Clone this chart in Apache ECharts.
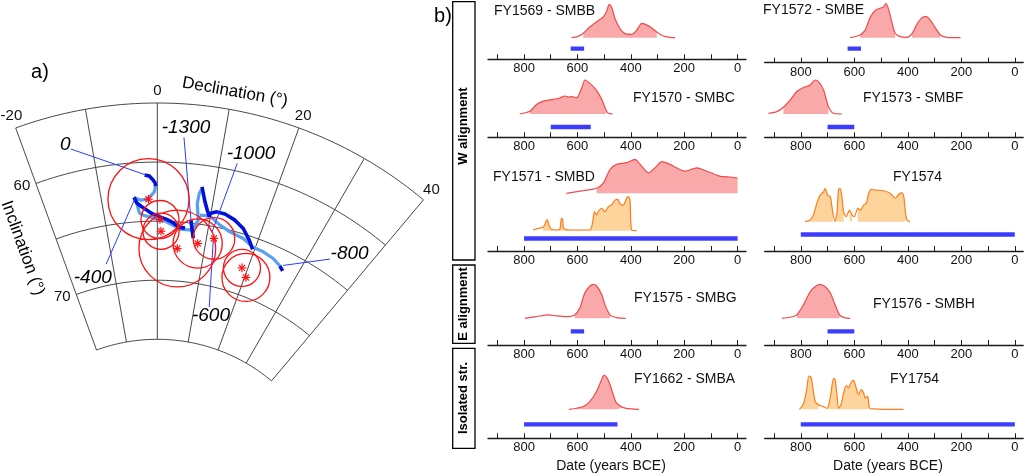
<!DOCTYPE html>
<html><head><meta charset="utf-8">
<script src="https://cdn.jsdelivr.net/npm/echarts@6/dist/echarts.min.js"></script>
<style>html,body{margin:0;padding:0;background:#fff}#c{width:1024px;height:475px}</style>
</head><body><div id="c"></div>
<script>
// ================= Panel a data: points are [declination, inclination] =================
const decTicks = [-20, 0, 20, 40];
const incTicks = [60, 70];
const incGridLines = [55, 60, 65, 70, 75];
const darkCurveSegments = [
  [[-2.11,61.08],[-1.34,61.18],[-0.78,61.47],[-0.39,61.75],[-0.28,62.03]],
  [[-4.17,62.92],[-3.75,63.39],[-2.88,63.75],[-1.98,64.05],[-1.06,64.34],[0.52,64.64],[1.81,64.84],[2.79,65.03],[3.46,65.21],[4.14,65.42],[5.47,65.48]],
  [[6.47,64.75],[6.76,65.31],[7.35,66.25]],
  [[7.71,61.84],[8.09,62.38],[8.60,63.06],[9.25,63.73],[9.82,64.25],[9.84,63.96],[11.01,63.73],[12.59,63.77],[14.66,64.07],[16.59,64.56],[18.37,65.35],[19.61,66.0]],
  [[26.05,66.41],[26.98,66.66]]
];
const lightCurveSegments = [
  [[-0.28,62.03],[-0.53,62.52],[-1.0,62.79],[-1.86,63.12],[-2.94,63.19],[-4.17,62.92]],
  [[-4.17,62.92],[-3.75,63.39],[-3.39,64.25],[-2.65,64.47],[-1.39,64.63],[1.49,64.99],[4.51,65.6],[6.89,65.58],[7.86,64.68],[7.27,63.29],[7.39,62.42],[7.72,62.06]],
  [[8.05,64.24],[9.93,64.19],[12.12,64.77],[14.30,65.14],[17.15,65.37],[19.59,65.82],[21.78,65.87],[24.15,66.06],[26.24,66.43]]
];
// site mean directions: [dec, inc, a95]
const siteMeans = [[-1.59,63.13,3.43],[0.52,64.86,1.61],[0.74,65.85,1.53],[4.26,67.25,3.25],[8.40,66.64,2.08],[11.50,65.98,1.76],[18.77,67.77,1.57],[20.30,68.42,2.03]];
const yearLabels = ['0','-1300','-1000','-400','-600','-800'];
const yearLabelPos = [[-13.89,57.61],[4.22,57.03],[14.45,58.25],[-15.08,69.04],[14.89,72.37],[36.11,62.42]];
const leaderFrom = [[-13.24,58.04],[4.02,57.83],[12.74,59.35],[-11.46,68.21],[13.89,71.73],[33.80,63.77]];
const leaderTo = [[-1.78,61.1],[6.47,64.75],[10.86,65.49],[-4.0,63.01],[11.43,66.14],[26.59,66.23]];

// ================= Panel b data: [year BCE, relative probability] =================
const dateTicks = [0,100,200,300,400,500,600,700,800,900];
const dateLabels = [0,200,400,600,800];
const fy1569 = [[622,0],[600,0.03],[578,0.13],[553,0.32],[528,0.47],[503,0.61],[491,0.76],[481,0.98],[472,0.9],[459,0.56],[441,0.27],[422,0.12],[397,0.1],[378,0.22],[359,0.42],[347,0.40],[328,0.32],[303,0.17],[278,0.05],[253,0.01],[234,0]];
const fy1569Fill = [[580,280]];
const fy1570 = [[816,0],[778,0.08],[753,0.28],[728,0.38],[691,0.43],[666,0.47],[647,0.53],[634,0.5],[622,0.51],[603,0.48],[585,0.74],[572,1.0],[553,0.9],[528,0.69],[509,0.43],[493,0.12],[484,0.02],[468,0]];
const fy1570Fill = [[780,490]];
const fy1572 = [[615,0],[578,0.08],[559,0.23],[541,0.59],[522,0.8],[503,0.87],[491,0.9],[482,1.0],[472,0.84],[459,0.44],[447,0.13],[428,0.03],[403,0.01],[385,0.11],[366,0.39],[347,0.59],[331,0.62],[316,0.52],[297,0.29],[278,0.08],[253,0.01],[203,0]];
const fy1572Fill = [[580,445],[390,265]];
const fy1573 = [[921,0.02],[890,0.07],[865,0.2],[840,0.41],[815,0.66],[790,0.78],[765,0.85],[747,1.0],[734,0.95],[715,0.71],[697,0.22],[678,0.02],[647,0]];
const fy1573Fill = [[870,690]];
const fy1571 = [[641,0],[578,0.08],[528,0.15],[503,0.3],[478,0.7],[453,0.85],[416,0.9],[384,1.0],[365,0.85],[334,0.6],[309,0.75],[284,0.93],[253,0.85],[222,0.72],[197,0.65],[153,0.75],[115,0.65],[65,0.5],[28,0.48],[0,0.45]];
const fy1571Fill = [[530,0]];
const fy1571b = [[766,0.02],[747,0.07],[728,0.1],[718,0.26],[713,0.33],[707,0.17],[697,0.04],[678,0.02],[666,0.04],[660,0.36],[656,0.33],[651,0.07],[628,0.02],[553,0.02],[543,0.26],[536,0.56],[528,0.46],[522,0.56],[509,0.66],[497,0.56],[484,0.71],[472,0.76],[459,0.9],[449,0.92],[441,0.8],[428,0.75],[416,0.95],[409,1.0],[403,0.9],[397,0.02],[378,0]];
const fy1571bFill = [[730,395]];
const fy1574 = [[784,0],[765,0.05],[753,0.2],[740,0.54],[728,0.78],[715,0.88],[709,0.98],[700,0.78],[690,0.74],[680,0.25],[672,0.01],[665,0.25],[659,0.93],[653,0.98],[647,0.78],[640,0.29],[630,0.15],[618,0.34],[609,0.2],[600,0.15],[587,0.39],[577,0.34],[565,0.49],[555,0.54],[546,0.83],[537,0.95],[521,0.93],[490,0.91],[465,0.83],[447,0.69],[431,0.83],[422,0.85],[415,0.74],[409,0.29],[403,0.05],[391,0]];
const fy1574Fill = [[770,675],[668,632],[625,604],[597,400]];
const fy1575 = [[797,0],[753,0.05],[710,0.1],[678,0.07],[641,0.05],[610,0.1],[591,0.3],[572,0.75],[553,0.95],[541,1.0],[528,0.95],[509,0.7],[497,0.4],[478,0.1],[453,0.02],[419,0]];
const fy1575Fill = [[612,475]];
const fy1576 = [[871,0],[840,0.03],[815,0.1],[790,0.4],[765,0.78],[747,0.93],[728,1.0],[709,0.93],[690,0.75],[672,0.4],[655,0.1],[638,0.02],[615,0]];
const fy1576Fill = [[820,650]];
const fy1662 = [[631,0],[603,0.03],[578,0.08],[553,0.23],[528,0.53],[509,0.88],[501,1.0],[491,0.95],[478,0.73],[466,0.43],[453,0.18],[428,0.05],[397,0.01],[369,0]];
const fy1662Fill = [[605,425]];
const fy1754 = [[805,0],[796,0.08],[787,0.23],[777,0.63],[770,0.98],[762,0.95],[755,0.63],[746,0.23],[734,0.13],[715,0.08],[703,0.03],[697,0.08],[687,0.48],[678,0.91],[672,0.88],[665,0.43],[659,0.03],[650,0.13],[640,0.48],[630,0.7],[621,0.63],[613,0.78],[603,0.86],[593,0.63],[584,0.43],[574,0.58],[565,0.48],[559,0.33],[550,0.38],[543,0.03],[528,0.01],[491,0],[416,0]];
const fy1754Fill = [[800,730],[700,540]];
// archaeological date ranges (blue bars): [from, to] years BCE
const bar1569 = [625,575], bar1570 = [700,550], bar1572 = [625,575], bar1573 = [700,600], bar1571 = [800,0];
const bar1574 = [800,0], bar1575 = [625,575], bar1576 = [700,600], bar1662 = [800,450], bar1754 = [800,0];
const panelTitles = ['FY1569 - SMBB','FY1572 - SMBE','FY1570 - SMBC','FY1573 - SMBF','FY1571 - SMBD','FY1574','FY1575 - SMBG','FY1576 - SMBH','FY1662 - SMBA','FY1754'];
const groupNames = ['W alignment','E alignment','Isolated str.'];
const xAxisName = 'Date (years BCE)';

// ================= styles / layout =================
const FONT = '"Liberation Sans", Arial, Helvetica, sans-serif';
const RED = {line:'#f04a4a', fill:'#f9a9a9'};
const ORANGE = {line:'#ff7d1c', fill:'#fdd49c'};
const X_MIN = -31.5, X_MAX = 935;
const COLS = [{left:488, width:258},{left:764.7, width:258.5}];
const CURVE_H = 34;

const panels = [
  {col:0, axisY:59.3, barY:48.7, bar:bar1569, titleXY:[494,12.5], curves:[{d:fy1569,f:fy1569Fill,c:RED,base:37.7}]},
  {col:1, axisY:62.7, barY:48.7, bar:bar1572, titleXY:[763,12], curves:[{d:fy1572,f:fy1572Fill,c:RED,base:37.7}]},
  {col:0, axisY:137.3, barY:127, bar:bar1570, titleXY:[633,100], curves:[{d:fy1570,f:fy1570Fill,c:RED,base:114}]},
  {col:1, axisY:137.3, barY:127, bar:bar1573, titleXY:[863,100], curves:[{d:fy1573,f:fy1573Fill,c:RED,base:114}]},
  {col:0, axisY:251, barY:238.5, bar:bar1571, titleXY:[493,178.3], curves:[{d:fy1571,f:fy1571Fill,c:RED,base:193.3},{d:fy1571b,f:fy1571bFill,c:ORANGE,base:230.7}]},
  {col:1, axisY:251, barY:234.5, bar:bar1574, titleXY:[893,178.3], curves:[{d:fy1574,f:fy1574Fill,c:ORANGE,base:221.7}]},
  {col:0, axisY:345, barY:331.3, bar:bar1575, titleXY:[634,299.3], curves:[{d:fy1575,f:fy1575Fill,c:RED,base:318.3}]},
  {col:1, axisY:345, barY:331.3, bar:bar1576, titleXY:[873,305.7], curves:[{d:fy1576,f:fy1576Fill,c:RED,base:318.3}]},
  {col:0, axisY:438.3, barY:424.3, bar:bar1662, titleXY:[634,381], curves:[{d:fy1662,f:fy1662Fill,c:RED,base:409.3}], bottom:true},
  {col:1, axisY:438.3, barY:424.3, bar:bar1754, titleXY:[890,381], curves:[{d:fy1754,f:fy1754Fill,c:ORANGE,base:409.3}], bottom:true}
];

const grid = [], xAxis = [], yAxis = [], series = [], title = [];
function addGrid(col, top, height, xOpts) {
  const gi = grid.length;
  grid.push({left:COLS[col].left, width:COLS[col].width, top:top, height:height});
  xAxis.push(Object.assign({gridIndex:gi, type:'value', min:X_MIN, max:X_MAX, inverse:true, show:false, splitLine:{show:false}}, xOpts || {}));
  yAxis.push({gridIndex:gi, type:'value', min:0, max:1, show:false, splitLine:{show:false}});
  return gi;
}

panels.forEach((p, i) => {
  const ax = {
    show:true, position:'bottom',
    axisLine:{show:true, onZero:false, lineStyle:{color:'#1a1a1a', width:1.3}},
    axisTick:{show:true, inside:true, length:5, customValues:dateTicks, lineStyle:{color:'#1a1a1a', width:1}},
    axisLabel:{show:true, customValues:dateLabels, margin:3, fontSize:13, color:'#111', fontFamily:FONT},
  };
  if (p.bottom) {
    Object.assign(ax, {name:xAxisName, nameLocation:'middle', nameGap:21,
      nameTextStyle:{fontSize:14, color:'#111', fontFamily:FONT, padding:[0,12,0,0]}});
  }
  const g = addGrid(p.col, p.barY, p.axisY - p.barY, ax);
  series.push({type:'line', xAxisIndex:g, yAxisIndex:g, data:[[p.bar[0],1],[p.bar[1],1]], symbol:'none', clip:false,
    lineStyle:{width:4.3, color:'#3c3cff', cap:'butt'}, silent:true, z:3});
  p.curves.forEach(cv => {
    const gc = addGrid(p.col, cv.base - CURVE_H, CURVE_H);
    const fillData = cv.d.map(([x, y]) => cv.f.some(([a, b]) => x <= a && x >= b) ? [x, y] : [x, '-']);
    series.push({type:'line', xAxisIndex:gc, yAxisIndex:gc, data:fillData, symbol:'none', clip:false, connectNulls:false, smooth:0.25,
      lineStyle:{width:0, opacity:0}, areaStyle:{color:cv.c.fill, opacity:1}, silent:true, z:2});
    series.push({type:'line', xAxisIndex:gc, yAxisIndex:gc, data:cv.d, symbol:'none', clip:false, smooth:0.25,
      lineStyle:{width:1.2, color:cv.c.line}, silent:true, z:3});
  });
  title.push({text:panelTitles[i], left:p.titleXY[0], top:p.titleXY[1] - 8.5, padding:0,
    textStyle:{fontSize:14, fontWeight:'normal', color:'#111', fontFamily:FONT}});
});

// ---------- panel a series ----------
function toPolar(segs) {
  const out = [];
  segs.forEach((s, k) => { if (k) out.push('-'); s.forEach(([d, inc]) => out.push([inc, d])); });
  return out;
}
series.push({type:'custom', coordinateSystem:'polar', z:1, silent:true,
  data: incGridLines.map(v => [v, -20]),
  renderItem: (params, api) => {
    const inc = api.value(0), pts = [];
    for (let d = -20; d <= 40; d += 1) pts.push(api.coord([inc, d]));
    return {type:'polyline', shape:{points:pts}, style:{stroke:'#333', fill:'none', lineWidth:0.9}};
  }});
series.push({type:'custom', coordinateSystem:'polar', z:1, silent:true,
  data: decTicks.map(d => [53.95, d]),
  renderItem: (params, api) => {
    const c = api.coord([api.value(0), api.value(1)]);
    return {type:'text', x:c[0], y:c[1], style:{text:String(decTicks[params.dataIndex]), fontSize:15, fontFamily:FONT,
      fill:'#111', align:'center', verticalAlign:'middle'}};
  }});
series.push({type:'line', coordinateSystem:'polar', data:toPolar(lightCurveSegments), symbol:'none', connectNulls:false,
  lineStyle:{width:3.2, color:'#5a9ff0'}, silent:true, z:4});
series.push({type:'line', coordinateSystem:'polar', data:toPolar(darkCurveSegments), symbol:'none', connectNulls:false,
  lineStyle:{width:3.6, color:'#0010d8'}, silent:true, z:5});
series.push({type:'custom', coordinateSystem:'polar', z:6, silent:true,
  data: leaderFrom.map((f, i) => [f[1], f[0], leaderTo[i][1], leaderTo[i][0]]),
  renderItem: (params, api) => {
    const a = api.coord([api.value(0), api.value(1)]);
    const b = api.coord([api.value(2), api.value(3)]);
    return {type:'line', shape:{x1:a[0], y1:a[1], x2:b[0], y2:b[1]}, style:{stroke:'#2a3cff', lineWidth:1}};
  }});
series.push({type:'custom', coordinateSystem:'polar', z:7, silent:true,
  data: siteMeans.map(s => [s[1], s[0], s[2]]),
  renderItem: (params, api) => {
    const c = api.coord([api.value(0), api.value(1)]);
    const e = api.coord([api.value(0) + api.value(2), api.value(1)]);
    const r = Math.hypot(e[0] - c[0], e[1] - c[1]);
    const arms = [0, 45, 90, 135].map(deg => {
      const t = deg * Math.PI / 180, L = 4.3;
      return {type:'line', shape:{x1:c[0] - L*Math.cos(t), y1:c[1] - L*Math.sin(t), x2:c[0] + L*Math.cos(t), y2:c[1] + L*Math.sin(t)},
        style:{stroke:'#ff1010', lineWidth:1.2}};
    });
    return {type:'group', children:[{type:'circle', shape:{cx:c[0], cy:c[1], r:r}, style:{fill:'none', stroke:'#ff1010', lineWidth:1.3}}].concat(arms)};
  }});
series.push({type:'custom', coordinateSystem:'polar', z:8, silent:true,
  data: yearLabelPos.map(p => [p[1], p[0]]),
  renderItem: (params, api) => {
    const c = api.coord([api.value(0), api.value(1)]);
    return {type:'text', x:c[0], y:c[1], style:{text:yearLabels[params.dataIndex], fontSize:19, fontStyle:'italic',
      fontFamily:FONT, fill:'#000', align:'center', verticalAlign:'middle'}};
  }});

// ---------- graphics (labels, group boxes) ----------
const graphic = [
  {type:'text', x:40, y:72, style:{text:'a)', fontSize:20, fontFamily:FONT, fill:'#000', align:'center', verticalAlign:'middle'}},
  {type:'text', x:443, y:16, style:{text:'b)', fontSize:20, fontFamily:FONT, fill:'#000', align:'center', verticalAlign:'middle'}},
  {type:'text', x:235, y:92, rotation:-10*Math.PI/180, style:{text:'Declination (°)', fontSize:17, fontFamily:FONT, fill:'#000', align:'center', verticalAlign:'middle'}},
  {type:'text', x:22.7, y:248, rotation:-70*Math.PI/180, style:{text:'Inclination (°)', fontSize:17, fontFamily:FONT, fill:'#000', align:'center', verticalAlign:'middle'}}
];
const boxes = [[1.7,258.3,126],[265,78.3,304],[348.3,100,398]];
boxes.forEach((b, i) => {
  graphic.push({type:'rect', shape:{x:452.7, y:b[0], width:22.3, height:b[1]}, style:{fill:'none', stroke:'#000', lineWidth:1.3}});
  graphic.push({type:'text', x:463.8, y:b[2], rotation:Math.PI/2, style:{text:groupNames[i], fontSize:13, fontWeight:'bold',
    fontFamily:FONT, fill:'#000', align:'center', verticalAlign:'middle'}});
});

const option = {
  animation:false,
  backgroundColor:'#fff',
  textStyle:{fontFamily:FONT},
  title: title,
  grid: grid, xAxis: xAxis, yAxis: yAxis,
  polar: {center:[157.3, 517], radius:[177.7, 414]},
  angleAxis: {type:'value', min:-20, max:40, interval:10, startAngle:110, endAngle:50, clockwise:true,
    axisLine:{show:false}, axisTick:{show:false}, axisLabel:{show:false},
    splitLine:{show:true, lineStyle:{color:'#333', width:0.9}}},
  radiusAxis: {type:'value', min:55, max:75, interval:5, inverse:true,
    axisLine:{show:false}, axisTick:{show:false},
    axisLabel:{margin:6, fontSize:15, color:'#111', fontFamily:FONT, formatter: v => incTicks.includes(v) ? String(v) : ''},
    splitLine:{show:false}},
  series: series,
  graphic: graphic
};
const chart = echarts.init(document.getElementById('c'), null, {renderer:'canvas'});
chart.setOption(option);
</script></body></html>
